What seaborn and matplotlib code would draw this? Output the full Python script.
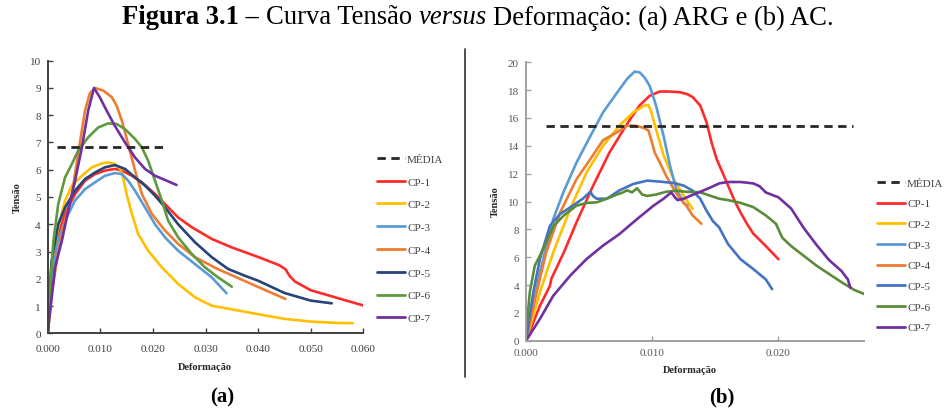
import matplotlib
matplotlib.use("Agg")
import matplotlib.pyplot as plt
from matplotlib.lines import Line2D
import pandas as pd
import seaborn as sns

# ---------------- (a) ARG ----------------
a_cp1_x = [0, 0.0007, 0.002, 0.0033, 0.0052, 0.0071, 0.009, 0.0109, 0.0128, 0.0141, 0.016,
           0.0179, 0.0204, 0.0223, 0.0248, 0.0274, 0.0312, 0.035, 0.040, 0.044, 0.0452,
           0.046, 0.047, 0.050, 0.055, 0.060]
a_cp1_y = [0, 2.2, 3.64, 4.38, 5.11, 5.6, 5.84, 5.97, 6.03, 5.97, 5.78,
           5.54, 5.11, 4.74, 4.25, 3.89, 3.46, 3.15, 2.8, 2.5, 2.35,
           2.1, 1.9, 1.58, 1.3, 1.02]

a_cp2_x = [0, 0.0007, 0.002, 0.0033, 0.0046, 0.0065, 0.0084, 0.0103, 0.0115, 0.0128, 0.0138,
           0.0144, 0.015, 0.016, 0.0172, 0.0191, 0.0217, 0.0248, 0.028, 0.0312, 0.035,
           0.040, 0.045, 0.050, 0.055, 0.058]
a_cp2_y = [0, 2.4, 3.89, 4.87, 5.42, 5.78, 6.09, 6.23, 6.27, 6.21, 6.03,
           5.66, 5.11, 4.38, 3.64, 3.03, 2.42, 1.81, 1.32, 1.01, 0.88,
           0.7, 0.53, 0.43, 0.38, 0.37]

a_cp3_x = [0, 0.0007, 0.002, 0.0033, 0.0052, 0.0071, 0.009, 0.0109, 0.0128, 0.0141, 0.0153,
           0.0166, 0.0185, 0.0204, 0.0223, 0.0248, 0.028, 0.0312, 0.034]
a_cp3_y = [0, 2.0, 3.4, 4.13, 4.87, 5.29, 5.54, 5.78, 5.88, 5.84, 5.6,
           5.23, 4.62, 4.0, 3.52, 3.03, 2.54, 2.05, 1.47]

a_cp4_x = [0, 0.00076, 0.002, 0.0033, 0.0046, 0.0058, 0.0071, 0.008, 0.009, 0.0106, 0.0122,
           0.0131, 0.0141, 0.0153, 0.0166, 0.0179, 0.0198, 0.0223, 0.0248, 0.028, 0.0324,
           0.035, 0.040, 0.0452]
a_cp4_y = [0, 1.44, 3.0, 4.13, 5.1, 6.6, 8.17, 8.8, 9.0, 8.9, 8.66,
           8.35, 7.8, 6.94, 5.97, 5.11, 4.38, 3.77, 3.28, 2.79, 2.35,
           2.13, 1.7, 1.26]

a_cp5_x = [0, 0.0007, 0.002, 0.0033, 0.0052, 0.0071, 0.009, 0.0109, 0.0128, 0.0147, 0.0166,
           0.0185, 0.0204, 0.0223, 0.0248, 0.028, 0.0312, 0.0343, 0.0375, 0.040, 0.045,
           0.050, 0.054]
a_cp5_y = [0, 2.6, 4.0, 4.62, 5.23, 5.66, 5.9, 6.09, 6.17, 6.03, 5.72,
           5.42, 5.05, 4.62, 4.0, 3.34, 2.79, 2.36, 2.11, 1.93, 1.48,
           1.2, 1.1]

a_cp6_x = [0, 0.00044, 0.0011, 0.002, 0.0033, 0.0046, 0.0058, 0.0077, 0.0096, 0.0115, 0.0131,
           0.0147, 0.0166, 0.0179, 0.0191, 0.0204, 0.0217, 0.0229, 0.0248, 0.0274, 0.0299,
           0.0324, 0.035]
a_cp6_y = [0, 1.69, 3.4, 4.74, 5.72, 6.21, 6.7, 7.19, 7.55, 7.7, 7.68,
           7.49, 7.13, 6.82, 6.33, 5.6, 4.87, 4.13, 3.52, 2.91, 2.42,
           2.05, 1.71]

a_cp7_x = [0, 0.0014, 0.0027, 0.0039, 0.0052, 0.0065, 0.0077, 0.0088, 0.0099, 0.0112, 0.0128,
           0.0147, 0.0166, 0.0185, 0.0204, 0.0226, 0.0245]
a_cp7_y = [0, 2.42, 3.4, 4.5, 5.6, 6.82, 8.17, 9.0, 8.66, 8.17, 7.6,
           7.0, 6.45, 6.03, 5.78, 5.6, 5.44]

a_media_x = [0.0018, 0.022]
a_media_y = [6.82, 6.82]

# ---------------- (b) AC ----------------
b_cp1_x = [0, 0.0011, 0.0019, 0.002, 0.003, 0.004, 0.0053, 0.0066, 0.008, 0.009, 0.0098,
           0.0106, 0.0114, 0.0122, 0.0128, 0.0132, 0.0138, 0.0143, 0.0147, 0.0151, 0.0157,
           0.0165, 0.017, 0.0175, 0.018, 0.019, 0.020]
b_cp1_y = [0, 2.5, 3.95, 4.43, 6.35, 8.5, 11.1, 13.5, 15.57, 16.9, 17.6,
           17.9, 17.9, 17.85, 17.7, 17.5, 16.9, 15.7, 14.25, 13.05, 11.8,
           10.1, 9.2, 8.4, 7.7, 6.8, 5.85]

b_cp2_x = [0, 0.0011, 0.00216, 0.0035, 0.0048, 0.0061, 0.0074, 0.0085, 0.0094, 0.0097, 0.0099,
           0.0103, 0.0109, 0.0117, 0.0125, 0.0132]
b_cp2_y = [0, 3.47, 6.35, 9.46, 12.1, 14.0, 15.45, 16.4, 16.9, 16.93, 16.5,
           15.2, 13.3, 11.6, 10.4, 9.46]

b_cp3_x = [0, 0.0011, 0.00216, 0.00296, 0.004, 0.0051, 0.0061, 0.0072, 0.008, 0.0086, 0.009,
           0.0094, 0.0098, 0.0103, 0.0109, 0.0114, 0.0119, 0.0125, 0.0128]
b_cp3_y = [0, 4.9, 8.74, 10.66, 12.8, 14.7, 16.4, 17.8, 18.8, 19.33, 19.28,
           18.9, 18.3, 16.9, 14.7, 12.6, 10.9, 9.9, 9.7]

b_cp4_x = [0, 0.00084, 0.0016, 0.0027, 0.004, 0.0051, 0.0061, 0.0072, 0.008, 0.0086, 0.0093,
           0.0097, 0.0099, 0.0102, 0.0106, 0.0111, 0.0117, 0.0122, 0.0127, 0.0132, 0.0139]
b_cp4_y = [0, 3.47, 6.35, 9.2, 11.6, 13.05, 14.4, 14.97, 15.45, 15.45, 15.3,
           15.1, 14.5, 13.5, 12.8, 11.85, 10.9, 10.2, 9.7, 9.0, 8.4]

b_cp5_x = [0, 0.00058, 0.0011, 0.0019, 0.0027, 0.0037, 0.0045, 0.0051, 0.0053, 0.0056, 0.0064,
           0.0074, 0.0085, 0.0096, 0.0106, 0.0117, 0.0125, 0.0132, 0.0138, 0.0143, 0.0148,
           0.0153, 0.016, 0.017, 0.018, 0.019, 0.0195]
b_cp5_y = [0, 3.47, 5.87, 8.26, 9.1, 9.7, 10.2, 10.7, 10.4, 10.2, 10.2,
           10.8, 11.26, 11.5, 11.43, 11.33, 11.14, 10.78, 10.2, 9.34, 8.6,
           8.14, 6.95, 5.85, 5.15, 4.4, 3.7]

b_cp6_x = [0, 0.0003, 0.0007, 0.0011, 0.0016, 0.0022, 0.003, 0.004, 0.0048, 0.0056, 0.0064,
           0.0072, 0.0077, 0.008, 0.0084, 0.0088, 0.0092, 0.0096, 0.0103, 0.0111, 0.0119,
           0.0127, 0.0138, 0.0153, 0.016, 0.017, 0.018, 0.019, 0.0198, 0.0203, 0.021,
           0.022, 0.023, 0.024, 0.025, 0.026, 0.0268]
b_cp6_y = [0.5, 3.47, 5.4, 6.1, 7.07, 8.26, 9.0, 9.7, 9.9, 9.94, 10.2,
           10.5, 10.66, 10.8, 10.66, 10.95, 10.5, 10.4, 10.5, 10.7, 10.78,
           10.7, 10.66, 10.2, 10.1, 9.9, 9.6, 9.0, 8.4, 7.4, 6.8,
           6.1, 5.4, 4.8, 4.2, 3.65, 3.35]

b_cp7_x = [0, 0.0011, 0.00216, 0.0035, 0.0048, 0.0061, 0.0074, 0.0088, 0.0101, 0.0109, 0.0115,
           0.0118, 0.012, 0.0125, 0.013, 0.0138, 0.0146, 0.0153, 0.016, 0.017, 0.018,
           0.0185, 0.019, 0.020, 0.021, 0.022, 0.023, 0.024, 0.025, 0.0255, 0.0257]
b_cp7_y = [0, 1.56, 3.23, 4.67, 5.87, 6.83, 7.66, 8.74, 9.7, 10.2, 10.65,
           10.3, 10.1, 10.2, 10.4, 10.7, 11.0, 11.3, 11.4, 11.4, 11.3,
           11.1, 10.65, 10.3, 9.5, 8.1, 6.9, 5.8, 5.0, 4.4, 3.8]

b_media_x = [0.0016, 0.0259]
b_media_y = [15.4, 15.4]

series_names = ["CP-1", "CP-2", "CP-3", "CP-4", "CP-5", "CP-6", "CP-7"]
x_ticks_a = [0.000, 0.010, 0.020, 0.030, 0.040, 0.050, 0.060]
y_ticks_a = [0, 1, 2, 3, 4, 5, 6, 7, 8, 9, 10]
x_ticks_b = [0.000, 0.010, 0.020]
y_ticks_b = [0, 2, 4, 6, 8, 10, 12, 14, 16, 18, 20]

colors_a = ["#FF2B2B", "#FFC000", "#5B9BD5", "#ED7D31", "#264478", "#5E9A3E", "#7030A0"]
colors_b = ["#FF2B2B", "#FFC000", "#5B9BD5", "#ED7D31", "#4472C4", "#5B8C3A", "#7030A0"]

sns.set_theme(style="white")
plt.rcParams["font.family"] = ["Liberation Serif", "DejaVu Serif"]


def long_table(xs, ys):
    rows = []
    for name, x, y in zip(series_names, xs, ys):
        rows.append(pd.DataFrame({"Deformação": x, "Tensão": y, "serie": name}))
    return pd.concat(rows, ignore_index=True)


df_a = long_table([a_cp1_x, a_cp2_x, a_cp3_x, a_cp4_x, a_cp5_x, a_cp6_x, a_cp7_x],
                  [a_cp1_y, a_cp2_y, a_cp3_y, a_cp4_y, a_cp5_y, a_cp6_y, a_cp7_y])
df_b = long_table([b_cp1_x, b_cp2_x, b_cp3_x, b_cp4_x, b_cp5_x, b_cp6_x, b_cp7_x],
                  [b_cp1_y, b_cp2_y, b_cp3_y, b_cp4_y, b_cp5_y, b_cp6_y, b_cp7_y])

W, H = 944, 414
fig = plt.figure(figsize=(W / 100, H / 100), dpi=100)
fig.patch.set_facecolor("white")


def px_axes(x0, y0, x1, y1):
    return fig.add_axes([x0 / W, 1 - y1 / H, (x1 - x0) / W, (y1 - y0) / H])


ax_a = px_axes(47.7, 61.7, 363.3, 334.3)
ax_b = px_axes(526, 63.3, 864.3, 341.7)

DASH = (0, (3.0, 2.0))


def draw_panel(ax, df, colors, mx, my, xlim, ylim, xt, yt, axis_col, tick_col, xpad):
    pal = dict(zip(series_names, colors))
    sns.lineplot(data=df, x="Deformação", y="Tensão", hue="serie", palette=pal,
                 sort=False, estimator=None, legend=False, linewidth=1.9, ax=ax)
    for ln in ax.get_lines():
        ln.set_solid_joinstyle("round")
        ln.set_solid_capstyle("round")
    sns.lineplot(x=mx, y=my, color="#262626", linewidth=2.0, ax=ax, linestyle=DASH)
    ax.set_xlim(*xlim)
    ax.set_ylim(*ylim)
    ax.set_xticks(xt)
    ax.set_yticks(yt)
    ax.set_xticklabels([f"{v:.3f}" for v in xt])
    ax.set_yticklabels([f"{v:g}" for v in yt])
    for s in ["top", "right"]:
        ax.spines[s].set_visible(False)
    for s in ["left", "bottom"]:
        ax.spines[s].set_color(axis_col)
        ax.spines[s].set_linewidth(1.4)
    ax.tick_params(axis="both", which="major", bottom=True, left=True, direction="in",
                   length=3.5, width=1, color=axis_col, labelsize=8, labelcolor=tick_col,
                   pad=5)
    ax.tick_params(axis="x", pad=xpad)
    ax.set_xlabel("")
    ax.set_ylabel("")
    ax.set_facecolor("white")


draw_panel(ax_a, df_a, colors_a, a_media_x, a_media_y, (0, 0.060), (0, 10),
           x_ticks_a, y_ticks_a, "#404040", "#404040", 8)
draw_panel(ax_b, df_b, colors_b, b_media_x, b_media_y, (0, 0.0268), (0, 20),
           x_ticks_b, y_ticks_b, "#A0A0A0", "#595959", 5)


def add_legend(ax, colors, x_px, y_px, spacing):
    handles = [Line2D([], [], color="#262626", linewidth=2.0, linestyle=DASH)]
    handles += [Line2D([], [], color=c, linewidth=2.0) for c in colors]
    labels = ["MÉDIA"] + series_names
    leg = ax.legend(handles, labels, loc="upper left",
                    bbox_to_anchor=(x_px / W, 1 - y_px / H),
                    bbox_transform=fig.transFigure, frameon=False, fontsize=8,
                    handlelength=2.5, handletextpad=0.2, labelspacing=spacing,
                    borderpad=0, borderaxespad=0)
    for t in leg.get_texts():
        t.set_color("#404040")


add_legend(ax_a, colors_a, 377, 155, 1.17)
add_legend(ax_b, colors_b, 877, 179, 0.98)

# axis titles
lab = dict(fontsize=7.5, fontweight="bold", color="#262626", ha="center", va="center")
fig.text(205 / W, 1 - 367 / H, "Deformação", **lab)
fig.text(690 / W, 1 - 371 / H, "Deformação", **lab)
fig.text(17 / W, 1 - 198 / H, "Tensão", rotation=90, **lab)
fig.text(495 / W, 1 - 202 / H, "Tensão", rotation=90, **lab)

# panel captions
cap = dict(fontsize=15, fontweight="bold", color="black", ha="center", va="center")
fig.text(222 / W, 1 - 397 / H, "(a)", **cap)
fig.text(722 / W, 1 - 397 / H, "(b)", **cap)

# divider between the two panels
fig.add_artist(Line2D([465 / W, 465 / W], [1 - 50 / H, 1 - 378 / H],
                      transform=fig.transFigure, color="#404040", linewidth=1.3))

# figure title, built from pieces with different styles
TITLE_SIZE = 19.2
pieces = [("Figura 3.1 –", "bold", "normal"),
          ("Curva Tensão", "normal", "normal"),
          ("versus", "normal", "italic"),
          ("Deformação: (a) ARG e (b) AC.", "normal", "normal")]
space = TITLE_SIZE * 0.25 * 100 / 72 / W
fig.canvas.draw()
renderer = fig.canvas.get_renderer()
texts = []
for txt, w, st in pieces:
    t = fig.text(0, 1 - 18 / H, txt, fontsize=TITLE_SIZE, fontweight=w, fontstyle=st,
                 color="black", ha="left", va="center")
    texts.append(t)
widths = [t.get_window_extent(renderer).width / W for t in texts]
total = sum(widths) + space * (len(texts) - 1)
x = 478 / W - total / 2
for t, w in zip(texts, widths):
    t.set_x(x)
    x += w + space

fig.savefig("out.png", dpi=100, facecolor="white")
